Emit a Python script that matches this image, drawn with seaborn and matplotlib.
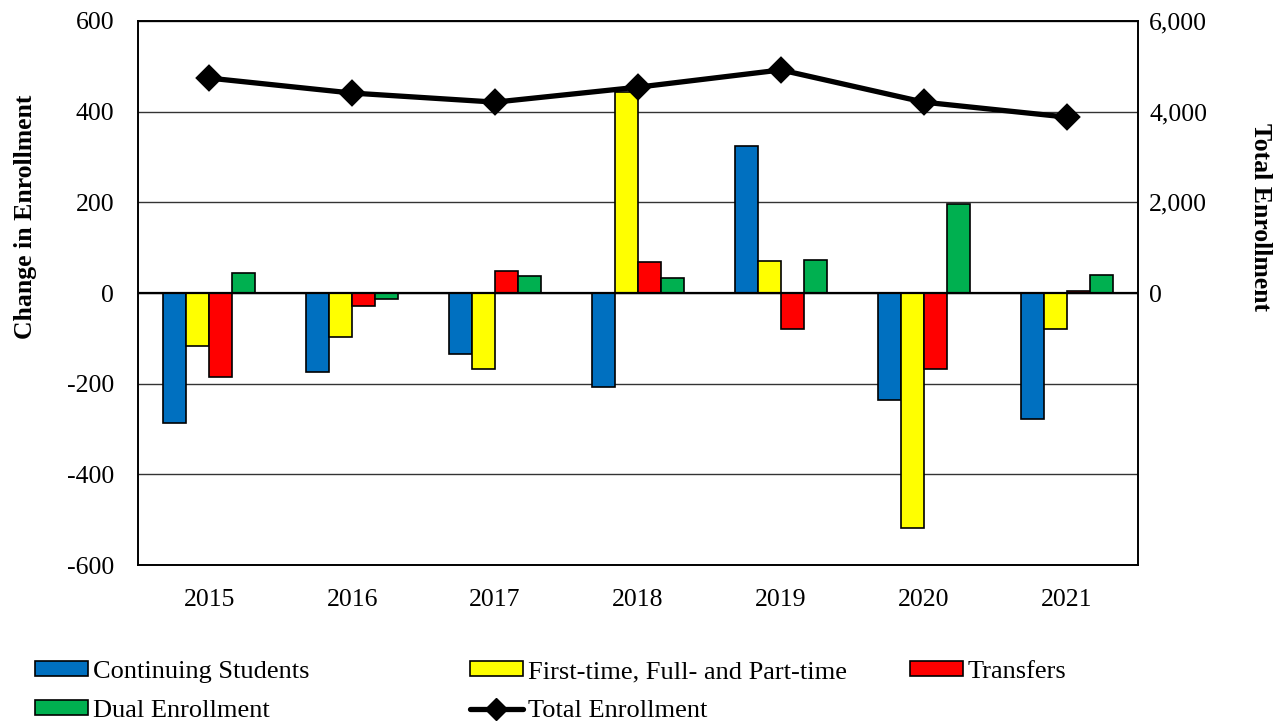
import pandas as pd
import matplotlib.pyplot as plt
import seaborn as sns
from matplotlib.lines import Line2D
from matplotlib.ticker import FuncFormatter

years = ["2015", "2016", "2017", "2018", "2019", "2020", "2021"]
continuing = [-287, -174, -135, -207, 325, -236, -278]
first_time = [-117, -97, -168, 443, 70, -518, -80]
transfers = [-185, -29, 48, 68, -80, -168, 4]
dual = [45, -13, 37, 33, 72, 197, 40]
total = [4740, 4410, 4210, 4540, 4920, 4210, 3880]

series_names = ["Continuing Students", "First-time, Full- and Part-time",
                "Transfers", "Dual Enrollment"]
series_colors = ["#0070C0", "#FFFF00", "#FF0000", "#00B050"]

sns.set_theme(style="white")
plt.rcParams["font.family"] = ["Liberation Serif", "DejaVu Serif"]
plt.rcParams["axes.unicode_minus"] = False
plt.rcParams["text.color"] = "black"
plt.rcParams["axes.labelcolor"] = "black"
plt.rcParams["xtick.color"] = "black"
plt.rcParams["ytick.color"] = "black"

# long-form table for the bars
rows = []
for name, vals in zip(series_names, [continuing, first_time, transfers, dual]):
    for y, v in zip(years, vals):
        rows.append({"Year": y, "Series": name, "Change": v})
df_bars = pd.DataFrame(rows)
df_total = pd.DataFrame({"Year": years, "Total": total})

fig = plt.figure(figsize=(12.82, 7.21), dpi=100)
ax = fig.add_axes([0.1076, 0.2163, 0.7801, 0.7546])

sns.barplot(data=df_bars, x="Year", y="Change", hue="Series",
            hue_order=series_names, palette=series_colors, order=years,
            width=0.644, gap=0, edgecolor="black", linewidth=1.2,
            saturation=1, errorbar=None, ax=ax)
bar_handles, bar_labels = ax.get_legend_handles_labels()
if ax.get_legend() is not None:
    ax.get_legend().remove()

ax.set_ylim(-600, 600)
ax.set_yticks(range(-600, 601, 200))
ax.set_xlim(-0.5, 6.5)
ax.yaxis.grid(True, color="#333333", linewidth=1.0)
ax.set_axisbelow(True)
ax.axhline(0, color="black", linewidth=1.6, zorder=1.5)
ax.set_xlabel("")
ax.set_ylabel("Change in Enrollment", fontsize=18.5, fontweight="bold")
ax.yaxis.set_label_coords(-0.101, 0.64)
ax.tick_params(axis="y", length=0, pad=17, labelsize=18.5)
ax.tick_params(axis="x", length=0, pad=17, labelsize=18.5)
for s in ax.spines.values():
    s.set_color("black")
    s.set_linewidth(1.2)

ax2 = ax.twinx()
sns.pointplot(data=df_total, x="Year", y="Total", order=years, color="black",
              markers="D", markersize=11, linewidth=3.8, errorbar=None, ax=ax2)
ax2.set_ylim(-6000, 6000)
ax2.set_yticks(range(0, 6001, 2000))
ax2.yaxis.set_major_formatter(FuncFormatter(lambda v, p: f"{int(v):,}"))
ax2.set_xlim(-0.5, 6.5)
ax2.grid(False)
ax2.set_xlabel("")
ax2.set_ylabel("Total Enrollment", fontsize=18.5, fontweight="bold", rotation=270)
ax2.yaxis.set_label_coords(1.134, 0.64)
ax2.tick_params(axis="y", length=0, pad=8, labelsize=18.5)
for s in ax2.spines.values():
    s.set_color("black")
    s.set_linewidth(1.2)

line_handle = Line2D([], [], color="black", linewidth=3.8, marker="D", markersize=11)

leg_kw = dict(loc="upper left", frameon=False, fontsize=19, handlelength=2.0,
              handleheight=0.5, handletextpad=0.2, labelspacing=0.64,
              borderaxespad=0, borderpad=0)
fig.legend([bar_handles[0], bar_handles[3]], [series_names[0], series_names[3]],
           bbox_to_anchor=(0.0273, 0.083), **leg_kw)
fig.legend([bar_handles[1], line_handle], [series_names[1], "Total Enrollment"],
           bbox_to_anchor=(0.3666, 0.083), **leg_kw)
fig.legend([bar_handles[2]], [series_names[2]],
           bbox_to_anchor=(0.7098, 0.083), **leg_kw)

fig.savefig("out.png", dpi=100)
